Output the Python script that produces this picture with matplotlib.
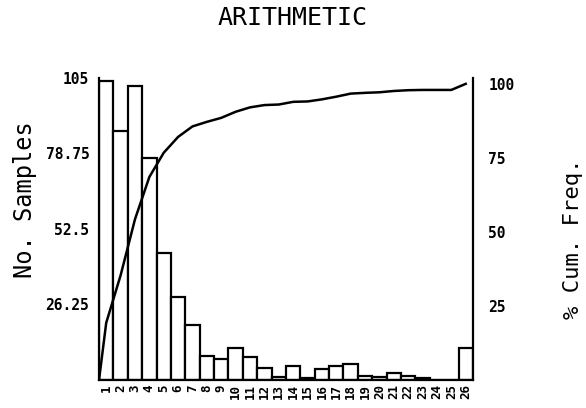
import numpy as np
from matplotlib import pyplot as plt

# sample counts per class
classes = list(range(1, 27))
counts = [104, 86.6, 102.2, 77.2, 44.2, 28.9, 19.1, 8.3, 7.3, 11.1,
          8.0, 4.2, 1.0, 4.9, 0.7, 3.8, 4.9, 5.6, 1.4, 1.0,
          2.4, 1.4, 0.5, 0, 0, 11.1]
left_ticks = [26.25, 52.5, 78.75, 105]
right_ticks = [25, 50, 75, 100]

plt.rcParams['font.family'] = ['DejaVu Sans Mono']
plt.rcParams['font.weight'] = 'bold'

fig = plt.figure(figsize=(5.86, 4.08), dpi=100)
ax = fig.add_axes([0.169, 0.069, 0.638, 0.740])

x = np.array(classes)
ax.bar(x, counts, width=1.0, color='white', edgecolor='black', linewidth=1.6)
ax.set_xlim(0.5, 26.5)
ax.set_ylim(0, 105)
ax.set_xticks(x)
ax.set_xticklabels([str(c) for c in classes], rotation=90, fontsize=9, fontweight='bold')
ax.set_yticks(left_ticks)
ax.set_yticklabels(['26.25', '52.5', '78.75', '105'], fontsize=10.5, fontweight='bold')
ax.tick_params(axis='both', length=0)
ax.tick_params(axis='y', pad=7)
ax.tick_params(axis='x', pad=3)
ax.spines['top'].set_visible(False)
ax.spines['right'].set_visible(False)
for s in ['left', 'bottom']:
    ax.spines[s].set_linewidth(1.6)
ax.set_ylabel('No. Samples', fontsize=17, fontweight='normal')
ax.yaxis.set_label_coords(-0.166, 0.596)

# cumulative frequency line, at bar centres
cum = np.cumsum(counts) / np.sum(counts) * 100
ax2 = ax.twinx()
ax2.plot(np.concatenate([[0.5], x]), np.concatenate([[0], cum]), color='black', linewidth=1.8)
ax2.set_ylim(0, 102)
ax2.set_yticks(right_ticks)
ax2.set_yticklabels(['25', '50', '75', '100'], fontsize=10.5, fontweight='bold')
ax2.tick_params(axis='y', length=0, pad=11)
ax2.spines['top'].set_visible(False)
ax2.spines['left'].set_visible(False)
ax2.spines['bottom'].set_visible(False)
ax2.spines['right'].set_linewidth(1.6)
ax2.set_ylabel('% Cum. Freq.', fontsize=16, fontweight='normal')
ax2.yaxis.set_label_coords(1.24, 0.467)

fig.suptitle('ARITHMETIC', fontsize=18, fontweight='normal', y=0.985)

fig.savefig('out.png', dpi=100)
